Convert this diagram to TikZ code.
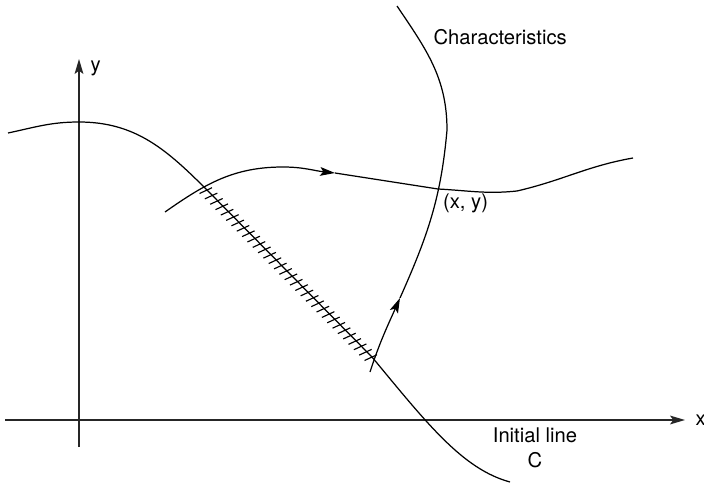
\documentclass[tikz,border=0pt]{standalone}
\usepackage{fontspec}
\setmainfont{TeX Gyre Heros}
\usepackage{tikz}
\usetikzlibrary{
    arrows.meta,
    calc
}

\begin{document}
\begin{tikzpicture}[
    line width=0.7pt,
    tip/.style={-{Stealth[length=8.5pt,width=5pt,inset=1.8pt]}},
    lbl/.style={inner sep=0pt,font=\fontsize{11.5}{14.3}\selectfont}
]
\useasboundingbox (0,0) rectangle (14.08,9.98);

% Axes
\draw[tip,line width=0.8pt,black!85] (0.10,1.58) -- (13.70,1.58);
\draw[tip,line width=0.8pt,black!85] (1.58,1.04) -- (1.58,8.80);
\node[lbl,anchor=base west] (xlab) at (13.90,1.48) {x};
\node[lbl,anchor=base west] (ylab) at (1.80,8.54) {y};

% Initial line C
\coordinate (h1) at (4.14,6.18);
\coordinate (h2) at (7.44,2.84);
\draw (0.16,7.32) to[out=12,in=180] (1.58,7.54) to[out=0,in=135] (h1)
    -- (h2) .. controls (8.55,1.5) and (9.25,0.6) .. (10.20,0.34);

% Hatching on the initial data
\foreach \i in {0,...,31}
    \draw[line width=0.65pt] ($(h1)!\i/31!(h2)$) ++(-0.15,-0.07) -- ++(0.25,0.115);

% Characteristic through the hatched part
\coordinate (p) at (8.76,6.20);
\draw[tip] (3.30,5.74) to[out=35,in=180] (5.66,6.64) to[out=0,in=174] (6.70,6.52);
\draw (6.70,6.52) -- (p) to[out=-3,in=186] (10.34,6.16)
    to[out=13,in=190] (12.66,6.82);

% Second characteristic
\draw[tip] (7.40,2.54) to[out=72,in=246] (8.00,4.02);
\draw (8.00,4.02) to[out=66,in=-95] (8.94,7.38) to[out=90,in=-56] (7.94,9.86);

% Labels
\node[lbl,anchor=base west] (chlab) at (8.66,9.08) {Characteristics};
\node[lbl,anchor=base west] (xy) at (8.85,5.81) {(x, y)};
\node[lbl,align=center,anchor=base] (init) at (10.70,0.63) {Initial line\\C};

\end{tikzpicture}
\end{document}
